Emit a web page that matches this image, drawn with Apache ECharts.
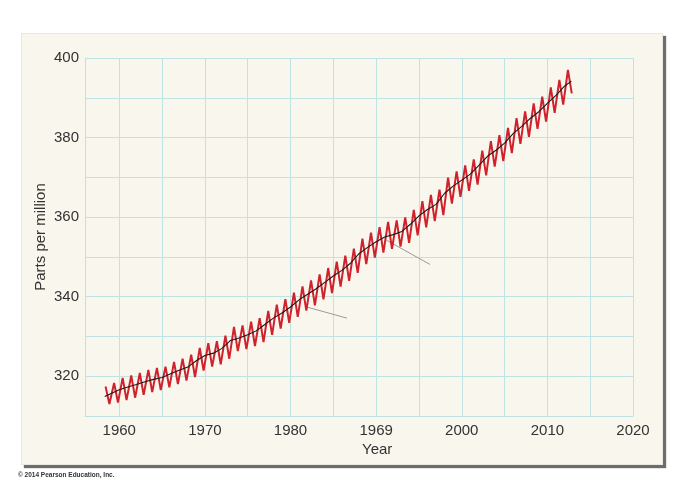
<!DOCTYPE html>
<html>
<head>
<meta charset="utf-8">
<script src="https://cdn.jsdelivr.net/npm/echarts@6/dist/echarts.min.js"></script>
<style>
html,body{margin:0;padding:0;background:#ffffff;width:687px;height:492px;overflow:hidden;}
#card{position:absolute;left:21px;top:33px;width:642px;height:432px;background:#f9f6ee;box-shadow:3px 3px 1px rgba(60,60,60,0.75);border:1px solid #ebe7dc;box-sizing:border-box;}
#chart{position:absolute;left:0;top:0;width:687px;height:492px;}
</style>
</head>
<body>
<div id="card"></div>
<div id="chart"></div>
<script>
// Trend (black) line: years and ppm
const trendYears = [1958.3,1959,1960,1961,1962,1963,1964,1965,1966,1967,1968,1969,1970,1971,1972,1973,1974,1975,1976,1977,1978,1979,1980,1981,1982,1983,1984,1985,1986,1987,1988,1989,1990,1991,1992,1993,1994,1995,1996,1997,1998,1999,2000,2001,2002,2003,2004,2005,2006,2007,2008,2009,2010,2011,2012,2012.8];
const trendPpm = [314.9,315.6,316.6,317.3,317.9,318.6,319.2,319.7,320.6,321.5,322.3,323.9,325.2,325.8,327.0,329.0,329.6,330.4,331.4,333.0,334.6,335.9,337.4,339.2,340.6,342.0,343.6,345.2,346.6,348.4,350.8,352.4,353.8,355.0,355.6,356.4,358.2,360.3,361.9,363.2,366.0,367.8,369.3,370.8,373.0,375.3,376.8,378.6,381.0,382.8,384.8,386.5,388.6,390.6,392.9,394.2];

// Seasonal (red) line: per-year peak (spring) and trough (autumn)
const seasonYears = [1958,1959,1960,1961,1962,1963,1964,1965,1966,1967,1968,1969,1970,1971,1972,1973,1974,1975,1976,1977,1978,1979,1980,1981,1982,1983,1984,1985,1986,1987,1988,1989,1990,1991,1992,1993,1994,1995,1996,1997,1998,1999,2000,2001,2002,2003,2004,2005,2006,2007,2008,2009,2010,2011,2012];
const peakPpm = [317.4,318.3,319.6,320.2,320.8,321.6,322.1,322.4,323.6,324.4,325.4,327.1,328.3,328.8,330.2,332.4,332.8,333.7,334.6,336.4,338.0,339.4,341.0,342.6,344.1,345.6,347.2,348.8,350.3,352.1,354.6,356.1,357.5,358.8,359.2,359.9,361.8,364.0,365.6,366.9,369.9,371.5,373.0,374.5,376.7,379.1,380.6,382.4,384.9,386.6,388.6,390.3,392.6,394.5,397.0];
const troughPpm = [313.0,313.4,314.0,314.6,315.3,316.0,316.5,317.2,318.0,318.9,319.8,321.4,322.4,323.0,324.4,326.3,326.8,327.6,328.6,330.4,332.0,333.4,334.9,336.5,337.8,339.3,340.9,342.5,344.0,346.0,348.2,349.8,351.1,352.0,352.6,353.5,355.4,357.4,359.0,360.5,363.4,365.1,366.6,368.2,370.5,372.7,374.1,376.1,378.4,380.2,382.2,384.0,386.2,388.3,391.1];
const peakOffset = 0.4;
const troughOffset = 0.85;

// Leader lines (annotation pointers) in data coordinates
const leaderA = [[1981.9,337.4],[1986.6,334.6]];
const leaderB = [[1991.2,354.2],[1996.3,348.1]];

// Axis ticks
const xGridValues = [1960,1965,1970,1975,1980,1985,1990,1995,2000,2005,2010,2015,2020];
const xLabelValues = [1960,1970,1980,1990,2000,2010,2020];
const xLabelTexts = ['1960','1970','1980','1969','2000','2010','2020'];
const yTickLabels = [320,340,360,380,400];

const trendData = trendYears.map((y,i)=>[y,trendPpm[i]]);
const seasonData = [];
seasonYears.forEach((y,i)=>{ seasonData.push([y+peakOffset,peakPpm[i]]); seasonData.push([y+troughOffset,troughPpm[i]]); });

const gridColor = '#bfe2e3';
const font = 'Liberation Sans, Arial, sans-serif';

const chart = echarts.init(document.getElementById('chart'), null, {renderer:'canvas'});
chart.setOption({
  backgroundColor: 'transparent',
  animation: false,
  grid: {left:85, right:54, top:58, bottom:76, show:false},
  xAxis: {
    type:'value', min:1956, max:2020,
    axisLine:{show:true, lineStyle:{color:gridColor, width:1}},
    axisTick:{show:false, customValues:xGridValues},
    splitLine:{show:true, lineStyle:{color:gridColor, width:1}},
    axisLabel:{
      color:'#333', fontSize:15, fontFamily:font, margin:7,
      customValues:xLabelValues,
      formatter: v => { const i = xLabelValues.indexOf(Math.round(v)); return i >= 0 ? xLabelTexts[i] : ''; }
    }
  },
  yAxis: {
    type:'value', min:310, max:400, interval:10,
    name:'Parts per million', nameLocation:'middle', nameGap:37, nameMoveOverlap:false,
    nameTextStyle:{color:'#333', fontSize:15, fontFamily:font},
    axisLine:{show:true, lineStyle:{color:gridColor, width:1}},
    axisTick:{show:false},
    splitLine:{show:true, lineStyle:{color:gridColor, width:1}},
    axisLabel:{
      color:'#333', fontSize:15, fontFamily:font, margin:6,
      formatter: v => yTickLabels.indexOf(v) >= 0 ? String(v) : ''
    }
  },
  graphic: [
    {type:'text', left:362, top:442, style:{text:'Year', fill:'#333', font:'15px Liberation Sans, Arial, sans-serif'}},
    {type:'text', left:18, top:472, style:{text:'\u00a9 2014 Pearson Education, Inc.', fill:'#333', font:'bold 6.5px Liberation Sans, Arial, sans-serif'}}
  ],
  series: [
    {type:'line', data:leaderA, symbol:'none', lineStyle:{color:'#9a9a9a', width:1}, z:1, silent:true},
    {type:'line', data:leaderB, symbol:'none', lineStyle:{color:'#9a9a9a', width:1}, z:1, silent:true},
    {type:'line', data:seasonData, symbol:'none', lineStyle:{color:'#d0222c', width:2}, z:2},
    {type:'line', data:trendData, symbol:'none', lineStyle:{color:'#1a1a1a', width:1.1}, z:3}
  ]
});
</script>
</body>
</html>
